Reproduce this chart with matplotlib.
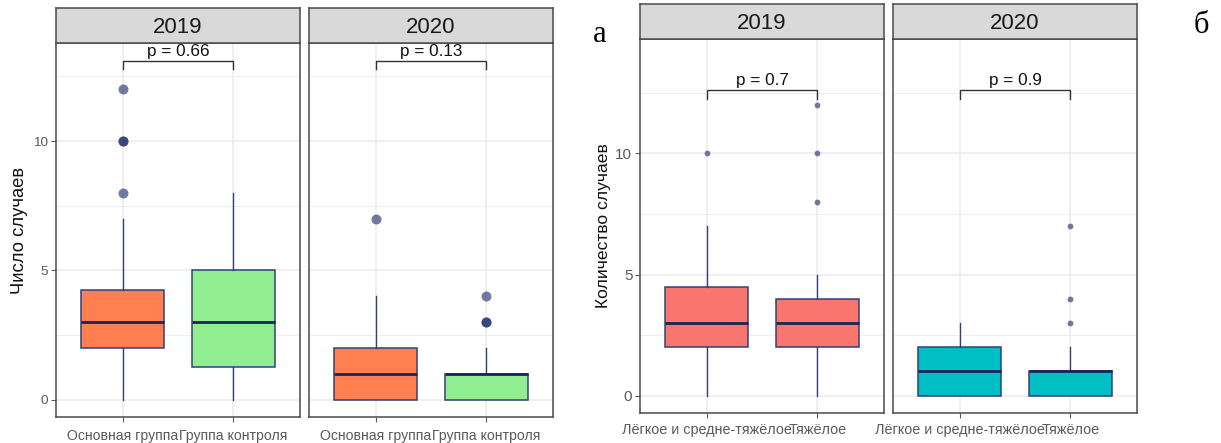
import matplotlib
matplotlib.use("Agg")
import matplotlib.pyplot as plt
from matplotlib.ticker import FixedLocator

plt.rcParams["font.family"] = ["Liberation Sans", "DejaVu Sans"]

# ---- data -------------------------------------------------------------
years = ["2019", "2020"]

# (а) study group vs. control group
a_groups = ["Основная группа", "Группа контроля"]
a_fill = ["#FF7F50", "#90EE90"]
a_whislo = [[0, 0], [0, 0]]
a_q1 = [[2, 1.25], [0, 0]]
a_med = [[3, 3], [1, 1]]
a_q3 = [[4.25, 5], [2, 1]]
a_whishi = [[7, 8], [4, 2]]
a_fliers = [[[8, 10, 10, 12], []], [[7], [3, 3, 4]]]
a_pvals = ["0.66", "0.13"]
a_ylabel = "Число случаев"

# (б) mild/moderate vs. severe course
b_groups = ["Лёгкое и средне-тяжёлое", "Тяжёлое"]
b_fill = ["#F8766D", "#00BFC4"]  # by year
b_whislo = [[0, 0], [0, 0]]
b_q1 = [[2, 2], [0, 0]]
b_med = [[3, 3], [1, 1]]
b_q3 = [[4.5, 4], [2, 1]]
b_whishi = [[7, 5], [3, 2]]
b_fliers = [[[10], [8, 10, 12]], [[], [3, 4, 7]]]
b_pvals = ["0.7", "0.9"]
b_ylabel = "Количество случаев"

yticks = [0, 5, 10]
yminor = [2.5, 7.5, 12.5]

# ---- styling ------------------------------------------------------------
W, H = 1221, 443
fig = plt.figure(figsize=(W / 100, H / 100), dpi=100)

EDGE = "#33407a"
MED = "#1b2358"
FLIER = "#1c2a66"
BORDER = "#4a4a4a"
GRID = "#ebebeb"
TICKC = "#5a5a5a"


def px_axes(x0, y0, x1, y1):
    return fig.add_axes([x0 / W, 1 - y1 / H, (x1 - x0) / W, (y1 - y0) / H])


def stats_for(k, whislo, q1, med, q3, whishi, fliers, labels):
    return [dict(whislo=whislo[k][j], q1=q1[k][j], med=med[k][j],
                 q3=q3[k][j], whishi=whishi[k][j], fliers=fliers[k][j],
                 label=labels[j]) for j in range(2)]


def panel(ax, stats, fills, ylim, pval, bracket_y, tip_y, show_y, ylabel,
          flier_ms, xtick_fs, ytick_fs, ylab_fs, ylab_pad, xpad, p_fs):
    ax.set_xlim(0.4, 2.6)
    ax.set_ylim(*ylim)
    ax.yaxis.set_major_locator(FixedLocator(yticks))
    ax.yaxis.set_minor_locator(FixedLocator(yminor))
    ax.grid(True, which="major", color=GRID, lw=1.1, zorder=0)
    ax.grid(True, which="minor", axis="y", color=GRID, lw=0.6, zorder=0)
    ax.set_axisbelow(True)
    bp = ax.bxp(stats, positions=[1, 2], widths=0.75, patch_artist=True,
                showfliers=True, showcaps=False,
                boxprops=dict(edgecolor=EDGE, linewidth=1.1),
                whiskerprops=dict(color=EDGE, linewidth=1.0),
                medianprops=dict(color=MED, linewidth=2.0),
                flierprops=dict(marker="o", markersize=flier_ms,
                                markerfacecolor=FLIER, markeredgecolor="none",
                                alpha=0.62, linestyle="none"))
    for patch, c in zip(bp["boxes"], fills):
        patch.set_facecolor(c)
    for s in ax.spines.values():
        s.set_color(BORDER)
        s.set_linewidth(1.1)
    ax.tick_params(axis="both", which="major", color=TICKC, length=3.5,
                   width=0.8, labelcolor=TICKC, pad=2)
    ax.tick_params(axis="x", labelsize=xtick_fs, pad=xpad)
    ax.tick_params(axis="y", labelsize=ytick_fs)
    ax.tick_params(axis="y", which="minor", length=0)
    ax.set_xticks([1, 2])
    ax.set_xticklabels([s["label"] for s in stats])
    if show_y:
        ax.set_ylabel(ylabel, fontsize=ylab_fs, color="#111111",
                      labelpad=ylab_pad)
    else:
        ax.tick_params(axis="y", which="major", length=0, labelleft=False)
    # significance bracket
    ax.plot([1, 1, 2, 2], [tip_y, bracket_y, bracket_y, tip_y],
            color="#333333", lw=1.0, zorder=5, solid_joinstyle="miter")
    ax.annotate(f"p = {pval}", xy=(1.5, bracket_y), xytext=(0, 1.0),
                textcoords="offset points", ha="center", va="bottom",
                fontsize=p_fs, color="#111111")


def strip(x0, y0, x1, y1, text, fs):
    s = px_axes(x0, y0, x1, y1)
    s.set_facecolor("#d9d9d9")
    s.set_xticks([])
    s.set_yticks([])
    for sp in s.spines.values():
        sp.set_color(BORDER)
        sp.set_linewidth(1.1)
    s.text(0.5, 0.45, text, ha="center", va="center", fontsize=fs,
           color="#1a1a1a", transform=s.transAxes)


# ---- figure а -------------------------------------------------------------
a_panels = [(56, 300), (309, 553)]
for k, (x0, x1) in enumerate(a_panels):
    ax = px_axes(x0, 43, x1, 417)
    st = stats_for(k, a_whislo, a_q1, a_med, a_q3, a_whishi, a_fliers, a_groups)
    panel(ax, st, a_fill, (-0.67, 13.79), a_pvals[k], 13.1, 12.78, k == 0,
          a_ylabel, 7.2, 10.1, 9.7, 13.2, 3.5, 5, 12.3)
    strip(x0, 8, x1, 43, years[k], 16)

# ---- figure б -------------------------------------------------------------
b_panels = [(640, 884), (893, 1137)]
for k, (x0, x1) in enumerate(b_panels):
    ax = px_axes(x0, 38.7, x1, 412.7)
    st = stats_for(k, b_whislo, b_q1, b_med, b_q3, b_whishi, b_fliers, b_groups)
    panel(ax, st, [b_fill[k]] * 2, (-0.70, 14.73), b_pvals[k], 12.63, 12.23,
          k == 0, b_ylabel, 4.2, 10.4, 11, 12.6, 3, 4, 12.3)
    strip(x0, 4, x1, 38.7, years[k], 16)

# panel letters
fig.text(599.5 / W, 1 - 41.7 / H, "а", fontsize=22, ha="center", va="baseline",
         family=["Liberation Serif", "DejaVu Serif"])
fig.text(1201 / W, 1 - 33 / H, "б", fontsize=22, ha="center", va="baseline",
         family=["Liberation Serif", "DejaVu Serif"])

fig.savefig("out.png", dpi=100)
